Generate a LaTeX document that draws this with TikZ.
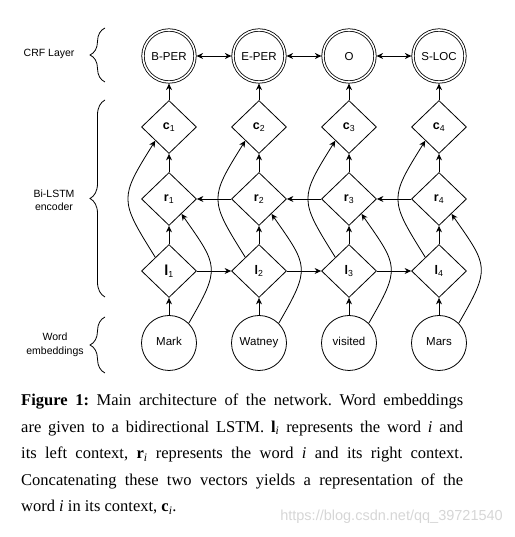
\documentclass[tikz,border=0pt]{standalone}
\usepackage{fontspec}
\setmainfont{Liberation Serif}
\newfontfamily\diagfont{Liberation Sans}
\usetikzlibrary{shapes.geometric,arrows.meta,decorations.pathreplacing}
\begin{document}
\begin{tikzpicture}[x=1pt,y=1pt,
  every node/.style={font=\diagfont\fontsize{11.5}{13}\selectfont},
  crf/.style={circle,draw,line width=0.8pt,double,double distance=1.6pt,minimum size=52pt,inner sep=0pt,outer sep=1.6pt,text height=8.3pt,text depth=0pt},
  word/.style={circle,draw,line width=0.8pt,minimum size=55pt,inner sep=0pt,text height=8.3pt,text depth=2.4pt},
  cell/.style={diamond,draw,line width=0.8pt,minimum width=55pt,minimum height=53pt,inner sep=0pt,font=\diagfont\fontsize{12.5}{13}\selectfont},
  arr/.style={-{Stealth[length=6.5pt,width=6pt]},line width=0.8pt},
  darr/.style={{Stealth[length=6.5pt,width=6pt]}-{Stealth[length=6.5pt,width=6pt]},line width=0.8pt},
  brc/.style={decorate,decoration={brace,amplitude=15pt},line width=0.8pt},
  lab/.style={align=center,font=\diagfont\fontsize{10.5}{13.5}\selectfont}]
\useasboundingbox (0,0) rectangle (514,537);

% CRF layer
\node[crf] (t1) at (169,481) {B-PER};
\node[crf] (t2) at (259,481) {E-PER};
\node[crf] (t3) at (349,481) {O};
\node[crf] (t4) at (439,481) {S-LOC};

% c, r, l cells
\foreach \i/\x in {1/169,2/259,3/349,4/439}{
  \node[cell] (c\i) at (\x,410) {\textbf{c}\textsubscript{\i}};
  \node[cell] (r\i) at (\x,338) {\textbf{r}\textsubscript{\i}};
}
\node[cell] (l1) at (169,266) {{\fontsize{14.5}{14}\selectfont\textbf{l}}\textsubscript{1}};
\node[cell] (l2) at (259,266) {\textbf{l}\textsubscript{2}};
\node[cell] (l3) at (349,266) {\textbf{l}\textsubscript{3}};
\node[cell] (l4) at (439,266) {\textbf{l}\textsubscript{4}};

% words
\node[word] (w1) at (169,194) {Mark};
\node[word] (w2) at (259,194) {Watney};
\node[word] (w3) at (349,194) {visited};
\node[word] (w4) at (439,194) {Mars};

% vertical arrows and curves
\foreach \i in {1,2,3,4}{
  \draw[arr] (c\i.north) -- (t\i.south);
  \draw[arr] (r\i.north) -- (c\i.south);
  \draw[arr] (l\i.north) -- (r\i.south);
  \draw[arr] (w\i.north) -- (l\i.south);
  \draw[arr] (l\i.135) to[out=122,in=238,looseness=1.5] (c\i.225);
  \draw[arr] (w\i.45) to[out=60,in=-55,looseness=1.5] (r\i.310);
}

% horizontal arrows
\draw[darr] (t1.east) -- (t2.west);
\draw[darr] (t2.east) -- (t3.west);
\draw[darr] (t3.east) -- (t4.west);
\draw[arr] (l1.east) -- (l2.west);
\draw[arr] (l2.east) -- (l3.west);
\draw[arr] (l3.east) -- (l4.west);
\draw[arr] (r2.west) -- (r1.east);
\draw[arr] (r3.west) -- (r2.east);
\draw[arr] (r4.west) -- (r3.east);

% braces and labels
\draw[brc] (105,455) -- (105,509);
\draw[brc] (105,240) -- (105,437);
\draw[brc] (105,164) -- (105,220);
\node[lab,anchor=east] (lcrf) at (78,483) {CRF Layer};
\node[lab] (lbi) at (54,336.5) {Bi-LSTM\\encoder};
\node[lab] (lwe) at (55,192) {Word\\embeddings};

% caption
\node[anchor=north west,inner sep=0pt,text width=442pt,align=justify,
      font=\fontsize{16.5}{26.5}\selectfont\frenchspacing] (cap) at (21,143)
 {\textbf{Figure 1:} Main architecture of the network. Word embeddings\linebreak
  are given to a bidirectional LSTM. \textbf{l}\textsubscript{\textit{i}} represents the word \textit{i} and\linebreak
  its left context, \textbf{r}\textsubscript{\textit{i}} represents the word \textit{i} and its right context.\linebreak
  Concatenating these two vectors yields a representation of the\linebreak
  word \textit{i} in its context, \textbf{c}\textsubscript{\textit{i}}.};

% watermark
\node[anchor=east,inner sep=0pt,text=black!16,font=\diagfont\fontsize{14.5}{16}\selectfont] (wm) at (503,20) {https://blog.csdn.net/qq\_39721540};
\end{tikzpicture}
\end{document}
